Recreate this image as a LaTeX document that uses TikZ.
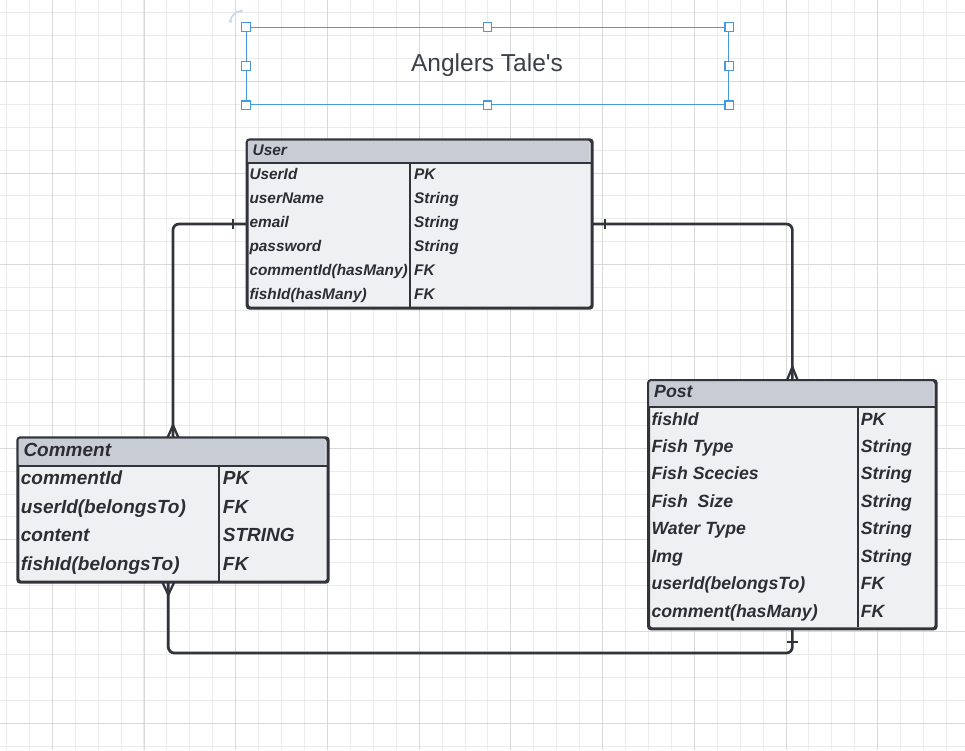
\documentclass[tikz,border=0pt]{standalone}
\usepackage{fontspec}
\setmainfont{Liberation Sans}
\newfontfamily\plainsans{Liberation Sans}
\usetikzlibrary{arrows.meta,calc}
\definecolor{gridminor}{HTML}{EBEBEB}
\definecolor{gridmajor}{HTML}{D9D9D9}
\definecolor{selblue}{HTML}{4499E0}
\definecolor{rotblue}{HTML}{C3D6F0}
\definecolor{headfill}{HTML}{C8CCD4}
\definecolor{bodyfill}{HTML}{EFF0F2}
\definecolor{edgecol}{HTML}{31343A}
\definecolor{txtcol}{HTML}{2C2E33}
\definecolor{titlecol}{HTML}{3B4048}
\tikzset{
  minorline/.style={draw=gridminor, line width=1pt},
  majorline/.style={draw=gridmajor, line width=1pt},
  tablebox/.style={draw=edgecol, fill=bodyfill, line width=2pt, rounded corners=3pt, inner sep=0pt, anchor=north west},
  sepline/.style={draw=edgecol, line width=2pt},
  conn/.style={draw=edgecol, line width=2.7pt, rounded corners=6pt},
  endmark/.style={draw=edgecol, line width=2.3pt},
  handle/.style={draw=selblue, fill=white, line width=1.1pt, minimum size=8.5pt, inner sep=0pt},
  ucell/.style={anchor=base west, inner sep=0pt, text=txtcol, font=\fontsize{15.4}{18}\selectfont\bfseries\itshape},
  ccell/.style={anchor=base west, inner sep=0pt, text=txtcol, font=\fontsize{19}{22}\selectfont\bfseries\itshape},
  pcell/.style={anchor=base west, inner sep=0pt, text=txtcol, font=\fontsize{17.7}{20}\selectfont\bfseries\itshape},
}
\begin{document}
\begin{tikzpicture}[x=1pt,y=-1pt]
\useasboundingbox (0,0) rectangle (965,750);
\fill[white] (0,0) rectangle (965,750);
% grid
\foreach \k in {0,...,41}{\draw[minorline] ({6.4+22.93*\k},0) -- ({6.4+22.93*\k},750);}
\foreach \k in {0,...,32}{\draw[minorline] (0,{12.5+22.93*\k}) -- (965,{12.5+22.93*\k});}
\foreach \k in {0,...,9}{\draw[majorline] ({52.3+91.72*\k},0) -- ({52.3+91.72*\k},750);}
\foreach \k in {0,...,7}{\draw[majorline] (0,{81.3+91.72*\k}) -- (965,{81.3+91.72*\k});}

% title box (selected)
\node[draw=selblue, line width=1.2pt, minimum width=482pt, minimum height=77pt, inner sep=0pt, anchor=north west] (titlebox) at (246,27) {};
\node[anchor=base, inner sep=0pt, text=titlecol, font=\plainsans\fontsize{24.5}{28}\selectfont] (title) at (487,71) {Anglers Tale's};
\node[handle] (h1) at (titlebox.north west) {};
\node[handle] (h2) at (titlebox.north) {};
\node[handle] (h3) at (titlebox.north east) {};
\node[handle] (h4) at (titlebox.west) {};
\node[handle] (h5) at (titlebox.east) {};
\node[handle] (h6) at (titlebox.south west) {};
\node[handle] (h7) at (titlebox.south) {};
\node[handle] (h8) at (titlebox.south east) {};
\draw[rotblue, line width=1.4pt, {Triangle[length=2.5pt,width=4pt]}-{Triangle[length=2.5pt,width=4pt]}] (243,11) to[bend right=45] (230.5,23);

% User table
\node[tablebox, minimum width=344pt, minimum height=167.4pt] (user) at (246.7,139.3) {};
\fill[headfill, rounded corners=2pt] (247.7,140.3) rectangle (589.7,163.3);
\draw[sepline] (246.7,163.3) -- (590.7,163.3);
\draw[sepline] (410.3,163.3) -- (410.3,306.7);
\draw[edgecol, line width=2pt, rounded corners=3pt] (user.north west) rectangle (user.south east);
\node[ucell] (uh) at (252.5,155) {User};
\node[ucell] (u1) at (249.3,179) {UserId};
\node[ucell] (u2) at (249.3,203) {userName};
\node[ucell] (u3) at (249.3,227) {email};
\node[ucell] (u4) at (249.3,251) {password};
\node[ucell] (u5) at (249.3,275) {commentId(hasMany)};
\node[ucell] (u6) at (249.3,299) {fishId(hasMany)};
\node[ucell] (v1) at (414,179) {PK};
\node[ucell] (v2) at (414,203) {String};
\node[ucell] (v3) at (414,227) {String};
\node[ucell] (v4) at (414,251) {String};
\node[ucell] (v5) at (414,275) {FK};
\node[ucell] (v6) at (414,299) {FK};

% Comment table
\node[tablebox, minimum width=309.4pt, minimum height=143.4pt] (comment) at (17.3,437.3) {};
\fill[headfill, rounded corners=2pt] (18.3,438.3) rectangle (325.7,465.7);
\draw[sepline] (17.3,465.7) -- (326.7,465.7);
\draw[sepline] (219,465.7) -- (219,580.7);
\draw[edgecol, line width=2pt, rounded corners=3pt] (comment.north west) rectangle (comment.south east);
\node[ccell] (ch) at (23.3,456) {Comment};
\node[ccell] (c1) at (20.7,484.5) {commentId};
\node[ccell] (c2) at (20.7,513.2) {userId(belongsTo)};
\node[ccell] (c3) at (20.7,541.9) {content};
\node[ccell] (c4) at (20.7,570.6) {fishId(belongsTo)};
\node[ccell] (d1) at (222.7,484.5) {PK};
\node[ccell] (d2) at (222.7,513.2) {FK};
\node[ccell] (d3) at (222.7,541.9) {STRING};
\node[ccell] (d4) at (222.7,570.6) {FK};

% Post table
\node[tablebox, minimum width=286.7pt, minimum height=247.3pt] (post) at (648,380) {};
\fill[headfill, rounded corners=2pt] (649,381) rectangle (933.7,407.3);
\draw[sepline] (648,407.3) -- (934.7,407.3);
\draw[sepline] (858.3,407.3) -- (858.3,627.3);
\draw[edgecol, line width=2pt, rounded corners=3pt] (post.north west) rectangle (post.south east);
\node[pcell] (ph) at (654,397.3) {Post};
\node[pcell] (p1) at (651.3,425) {fishId};
\node[pcell] (p2) at (651.3,452.4) {Fish Type};
\node[pcell] (p3) at (651.3,479.9) {Fish Scecies};
\node[pcell] (p4) at (651.3,507.3) {Fish~~Size};
\node[pcell] (p5) at (651.3,534.7) {Water Type};
\node[pcell] (p6) at (651.3,562.2) {Img};
\node[pcell] (p7) at (651.3,589.6) {userId(belongsTo)};
\node[pcell] (p8) at (651.3,617) {comment(hasMany)};
\node[pcell] (q1) at (860.7,425) {PK};
\node[pcell] (q2) at (860.7,452.4) {String};
\node[pcell] (q3) at (860.7,479.9) {String};
\node[pcell] (q4) at (860.7,507.3) {String};
\node[pcell] (q5) at (860.7,534.7) {String};
\node[pcell] (q6) at (860.7,562.2) {String};
\node[pcell] (q7) at (860.7,589.6) {FK};
\node[pcell] (q8) at (860.7,617) {FK};

% connectors
\draw[conn] (user.west) -| (comment.north);
\draw[conn] (user.east) -| (post.north);
\coordinate (cbot) at ($(comment.south)+(-4.7,0)$);
\draw[conn] (cbot) -- ($(cbot)+(0,70.3)$) -| (post.south);

% end marks
\draw[endmark] ($(user.west)+(-13.4,-4.7)$) -- ($(user.west)+(-13.4,4.7)$);
\draw[endmark] ($(user.east)+(12.6,-4.7)$) -- ($(user.east)+(12.6,4.7)$);
\draw[endmark] ($(post.south)+(-5.3,13)$) -- ($(post.south)+(5.3,13)$);
\draw[endmark] ($(comment.north)+(-5.3,0)$) -- ($(comment.north)+(0,-12)$) -- ($(comment.north)+(5.3,0)$);
\draw[endmark] ($(post.north)+(-5.3,0)$) -- ($(post.north)+(0,-13)$) -- ($(post.north)+(5.3,0)$);
\draw[endmark] ($(cbot)+(-5.7,0)$) -- ($(cbot)+(0,12)$) -- ($(cbot)+(5.7,0)$);
\end{tikzpicture}
\end{document}
